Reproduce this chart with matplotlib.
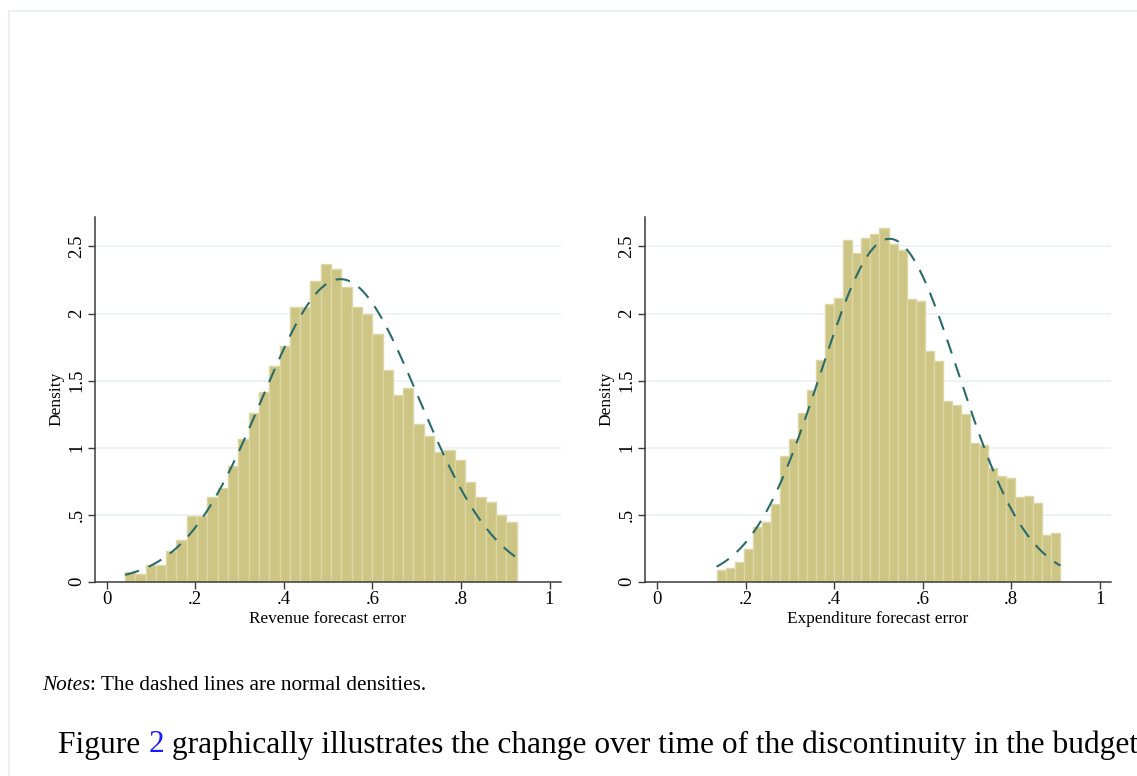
import numpy as np
import matplotlib
matplotlib.use("Agg")
import matplotlib.pyplot as plt
from matplotlib.lines import Line2D

plt.rcParams['font.family'] = ['Liberation Serif', 'DejaVu Serif']

# ---------------- data ----------------
rev_bin_start = 0.0413
rev_bin_end = 0.9255
rev_density = [0.069, 0.055, 0.122, 0.122, 0.226, 0.308, 0.489, 0.489, 0.635, 0.697,
               0.866, 1.062, 1.256, 1.417, 1.606, 1.760, 2.050, 2.045, 2.246, 2.370,
               2.333, 2.199, 2.050, 1.998, 1.847, 1.581, 1.395, 1.442, 1.177, 1.090,
               0.966, 0.985, 0.904, 0.740, 0.631, 0.591, 0.494, 0.442]
rev_mu, rev_sigma = 0.528, 0.1768

exp_bin_start = 0.1346
exp_bin_end = 0.911
exp_density = [0.087, 0.102, 0.147, 0.241, 0.405, 0.443, 0.577, 0.935, 1.062, 1.256,
               1.428, 1.652, 2.070, 2.114, 2.547, 2.453, 2.560, 2.595, 2.637, 2.520,
               2.475, 2.109, 2.095, 1.719, 1.644, 1.348, 1.316, 1.249, 1.032, 1.017,
               0.851, 0.789, 0.771, 0.632, 0.639, 0.585, 0.348, 0.366]
exp_mu, exp_sigma = 0.525, 0.156

x_ticks = [0, 0.2, 0.4, 0.6, 0.8, 1.0]
x_ticklabels = ["0", ".2", ".4", ".6", ".8", "1"]
y_ticks = [0, 0.5, 1.0, 1.5, 2.0, 2.5]
y_ticklabels = ["0", ".5", "1", "1.5", "2", "2.5"]
x_labels = ["Revenue forecast error", "Expenditure forecast error"]
y_label = "Density"

# ---------------- styles ----------------
W, H = 1137, 776
bar_fill = "#cdc584"
bar_edge = "#dcd7a4"
curve_col = "#2a6b6b"
grid_col = "#eaf1f3"
axis_col = "#3a3a3a"

fig = plt.figure(figsize=(W / 100, H / 100), dpi=100)
fig.patch.set_facecolor("white")

# page border (light)
border_col = "#e6eded"
fig.add_artist(Line2D([9 / W, 1.0], [1 - 11 / H, 1 - 11 / H], color=border_col, lw=1.2,
                      transform=fig.transFigure))
fig.add_artist(Line2D([9 / W, 9 / W], [0, 1 - 11 / H], color=border_col, lw=1.2,
                      transform=fig.transFigure))

panels = [
    (95, rev_bin_start, rev_bin_end, rev_density, rev_mu, rev_sigma, x_labels[0]),
    (645.3, exp_bin_start, exp_bin_end, exp_density, exp_mu, exp_sigma, x_labels[1]),
]

ax_bottom_px, ax_top_px = 581.7, 216.7
ax_w_px = 465.5
y_mid = 1 - (ax_bottom_px + ax_top_px) / 2 / H

for left_px, b0, b1, dens, mu, sigma, xlabel in panels:
    ax = fig.add_axes([left_px / W, 1 - ax_bottom_px / H, ax_w_px / W,
                       (ax_bottom_px - ax_top_px) / H])
    ax.set_xlim(-0.0264, 1.0248)
    ax.set_ylim(0, 2.722)
    n = len(dens)
    edges = np.linspace(b0, b1, n + 1)
    width = edges[1] - edges[0]
    for yv in y_ticks[1:]:
        ax.axhline(yv, color=grid_col, lw=1.2, zorder=0)
    ax.bar(edges[:-1], dens, width=width, align="edge", color=bar_fill,
           edgecolor=bar_edge, linewidth=1.0, zorder=2)
    xs = np.linspace(b0, b1, 300)
    ys = np.exp(-0.5 * ((xs - mu) / sigma) ** 2) / (sigma * np.sqrt(2 * np.pi))
    ax.plot(xs, ys, color=curve_col, lw=1.5, dashes=(7, 5), zorder=3)

    for s in ["top", "right"]:
        ax.spines[s].set_visible(False)
    for s in ["left", "bottom"]:
        ax.spines[s].set_color(axis_col)
        ax.spines[s].set_linewidth(1.1)
    ax.set_xticks(x_ticks)
    ax.set_xticklabels(x_ticklabels)
    ax.set_yticks(y_ticks)
    ax.set_yticklabels(y_ticklabels, rotation=90, va="center")
    ax.tick_params(axis="both", direction="out", length=5, width=1.0, color=axis_col,
                   labelsize=13.5)
    ax.tick_params(axis="x", pad=2)
    ax.tick_params(axis="y", pad=2)
    ax.set_xlabel(xlabel, fontsize=12.4, labelpad=2)
    fig.text((left_px - 39) / W, y_mid, y_label, fontsize=12.5, rotation=90,
             ha="center", va="center")

fig.canvas.draw()
r = fig.canvas.get_renderer()

tn = fig.text(42 / W, 1 - 686 / H, "Notes", style="italic", fontsize=15.3,
              va="center", ha="left")
bbn = tn.get_window_extent(r)
fig.text(bbn.x1 / W, 1 - 686 / H, ": The dashed lines are normal densities.",
         fontsize=15.3, va="center", ha="left")

fs = 22.6
t1 = fig.text(58 / W, 1 - 745 / H, "Figure ", fontsize=fs, va="center", ha="left")
bb = t1.get_window_extent(r)
t2 = fig.text(bb.x1 / W, 1 - 745 / H, "2", fontsize=fs, va="center", ha="left",
              color="#1a1aff")
bb2 = t2.get_window_extent(r)
fig.text(bb2.x1 / W, 1 - 745 / H,
         " graphically illustrates the change over time of the discontinuity in the budget",
         fontsize=fs, va="center", ha="left")

fig.savefig("out.png", dpi=100)
